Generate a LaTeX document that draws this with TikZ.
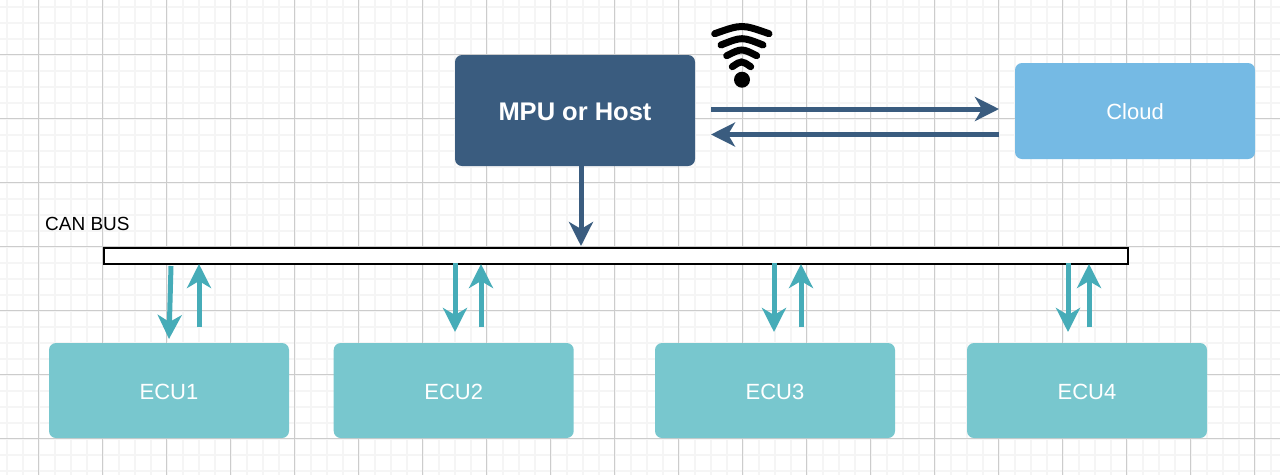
\documentclass[tikz,border=0pt]{standalone}
\usepackage{fontspec}
\setmainfont{Liberation Sans}
\usetikzlibrary{arrows.meta}
\definecolor{navy}{HTML}{3A5C7F}
\definecolor{sky}{HTML}{75BAE4}
\definecolor{ecufill}{HTML}{78C7CE}
\definecolor{tealarrow}{HTML}{46ACB8}
\definecolor{gridmajor}{HTML}{CCCCCC}
\definecolor{gridminor}{HTML}{F5F5F5}
\tikzset{
  x=1pt,y=-1pt,
  box/.style={rectangle,rounded corners=7pt,minimum width=240pt,text=white,inner sep=0pt,text depth=0pt,text height=17.5pt,font=\fontsize{22}{24}\selectfont},
  ecubox/.style={box,fill=ecufill,minimum height=95pt},
  navyarrow/.style={draw=navy,line width=5pt,-{Stealth[length=24pt,width=24pt,inset=7pt]}},
  tealarr/.style={draw=tealarrow,line width=5pt,-{Stealth[length=24pt,width=24pt,inset=7pt]}},
  wave/.style={line width=7pt,line cap=round,black},
}
\begin{document}
\begin{tikzpicture}
\useasboundingbox (0,0) rectangle (1280,475);
\fill[white] (0,0) rectangle (1280,475);
% grid
\foreach \i in {0,...,79} {
  \draw[gridminor,line width=2pt] ({6.5+16*\i},0) -- ({6.5+16*\i},475);
}
\foreach \i in {0,...,29} {
  \draw[gridminor,line width=2pt] (0,{6.5+16*\i}) -- (1280,{6.5+16*\i});
}
\foreach \i in {0,...,19} {
  \draw[gridmajor,line width=1pt] ({38.5+64*\i},0) -- ({38.5+64*\i},475);
}
\foreach \i in {0,...,6} {
  \draw[gridmajor,line width=1pt] (0,{54.5+64*\i}) -- (1280,{54.5+64*\i});
}
% nodes
\node[box,fill=navy,minimum height=111pt,text height=19.5pt,font=\fontsize{25.5}{28}\selectfont\bfseries] (mpu) at (575,110.5) {MPU or Host};
\node[box,fill=sky,minimum height=96pt] (cloud) at (1135,111) {Cloud};
\node[draw=black,fill=white,line width=2pt,minimum width=1024pt,minimum height=16pt,inner sep=0pt] (bus) at (616.3,255.5) {};
\node[anchor=west,inner sep=0pt,font=\fontsize{19}{22}\selectfont] (buslabel) at (45,223.5) {CAN BUS};
\node[ecubox] (ecu1) at (169,390.5) {ECU1};
\node[ecubox] (ecu2) at (453.7,390.5) {ECU2};
\node[ecubox] (ecu3) at (775,390.5) {ECU3};
\node[ecubox] (ecu4) at (1087,390.5) {ECU4};
% free ends
\coordinate (mpuR) at (711,109);
\coordinate (cloudL) at (999,109);
\coordinate (cloudL2) at (999,134.5);
\coordinate (mpuR2) at (711,134.5);
\coordinate (mpuB) at (581,166);
\coordinate (busT) at (581,246);
\coordinate (d1a) at (171,266); \coordinate (d1b) at (169,339);
\coordinate (u1a) at (199,327); \coordinate (u1b) at (199,264);
\coordinate (d2a) at (455,263); \coordinate (d2b) at (455,332);
\coordinate (u2a) at (481,327); \coordinate (u2b) at (481,264);
\coordinate (d3a) at (774,263); \coordinate (d3b) at (774,332);
\coordinate (u3a) at (801,327); \coordinate (u3b) at (801,264);
\coordinate (d4a) at (1068,263); \coordinate (d4b) at (1068,332);
\coordinate (u4a) at (1089,327); \coordinate (u4b) at (1089,264);
% connectors
\draw[navyarrow] (mpuR) -- (cloudL);
\draw[navyarrow] (cloudL2) -- (mpuR2);
\draw[navyarrow] (mpuB) -- (busT);
\foreach \n in {1,2,3,4} {
  \draw[tealarr] (d\n a) -- (d\n b);
  \draw[tealarr] (u\n a) -- (u\n b);
}
% wifi symbol
\fill[black] (742,79.7) circle (8);
\draw[wave] (732.3,66.7) .. controls (741.5,60.4) .. (750.7,66.7);
\draw[wave] (726.7,55.7) .. controls (741.7,48.1) .. (756.7,55.7);
\draw[wave] (721,45) .. controls (742,36.6) .. (763,45);
\draw[wave] (714.7,33.7) .. controls (741.8,24.1) .. (769,33.7);
\end{tikzpicture}
\end{document}
